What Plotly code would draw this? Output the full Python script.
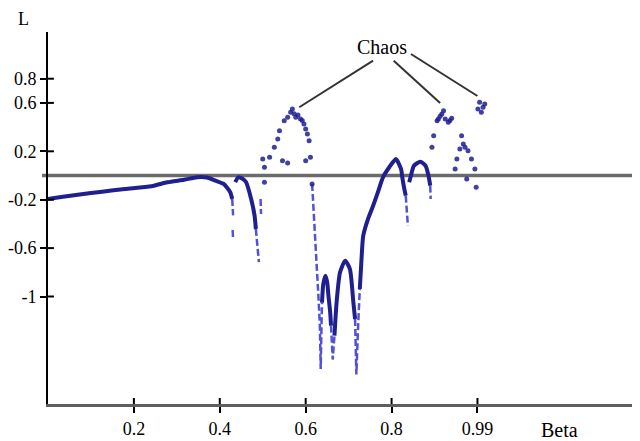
import plotly.graph_objects as go

# smooth (dense) parts of the curve, None = break
curve_beta = [0.000, 0.011, 0.065, 0.126, 0.179, 0.241, 0.278, 0.317, 0.347, 0.370, 0.390, 0.409, 0.424, 0.429, None,
              0.436, 0.443, 0.452, 0.461, 0.473, 0.481, 0.484, None,
              0.638, 0.641, 0.646, 0.650, 0.653, 0.657, 0.659, None,
              0.667, 0.672, 0.680, 0.692, 0.703, 0.711, 0.715, None,
              0.726, 0.730, 0.734, 0.745, 0.757, 0.768, 0.780, 0.795, 0.810, 0.822, 0.825, 0.829, 0.833, None,
              0.841, 0.845, 0.852, 0.867, 0.879, 0.886, 0.890]
curve_L = [-0.194, -0.188, -0.161, -0.134, -0.112, -0.089, -0.056, -0.035, -0.015, -0.017, -0.043, -0.070, -0.136, -0.194, None,
           -0.054, -0.015, -0.025, -0.054, -0.194, -0.332, -0.442, None,
           -1.050, -0.897, -0.828, -0.880, -0.993, -1.128, -1.241, None,
           -1.324, -1.048, -0.800, -0.704, -0.773, -1.048, -1.186, None,
           -0.938, -0.690, -0.498, -0.360, -0.250, -0.139, -0.015, 0.070, 0.136, 0.054, -0.015, -0.098, -0.167, None,
           -0.056, -0.002, 0.081, 0.114, 0.081, -0.002, -0.084]

# sparse dashed drops
dip_beta = [0.429, 0.431, None, 0.430, 0.431, None,
            0.484, 0.491, None, 0.495, 0.496, None,
            0.615, 0.619, 0.622, 0.626, 0.630, 0.633, 0.635, 0.637, 0.638, None,
            0.659, 0.663, 0.667, None,
            0.715, 0.718, 0.722, 0.726, None,
            0.833, 0.838, None,
            0.890, 0.891]
dip_L = [-0.194, -0.33, None, -0.45, -0.53, None,
         -0.442, -0.715, None, -0.194, -0.318, None,
         -0.070, -0.302, -0.525, -0.773, -1.021, -1.244, -1.599, -1.200, -1.050, None,
         -1.241, -1.521, -1.324, None,
         -1.186, -1.645, -1.250, -0.938, None,
         -0.167, -0.417, None,
         -0.084, -0.194]

# chaotic bands
chaos_beta = [0.504, 0.504, 0.500, 0.516, 0.527, 0.535, 0.539, 0.550, 0.558, 0.565, 0.569, 0.573, 0.577, 0.582,
              0.588, 0.592, 0.596, 0.600, 0.604, 0.608, 0.611, 0.546, 0.558, 0.600, 0.615,
              0.894, 0.898, 0.906, 0.909, 0.913, 0.917, 0.921, 0.925, 0.932, 0.936, 0.940,
              0.948, 0.952, 0.959, 0.963, 0.967, 0.971, 0.978, 0.986, 0.994, 0.997, 0.975,
              1.001, 1.005, 1.009, 1.013, 1.017]
chaos_L = [-0.056, 0.068, 0.136, 0.150, 0.233, 0.302, 0.370, 0.453, 0.481, 0.522, 0.550, 0.510, 0.481, 0.500,
           0.467, 0.455, 0.426, 0.384, 0.343, 0.288, 0.150, 0.122, 0.103, 0.122, -0.070,
           0.233, 0.329, 0.453, 0.467, 0.490, 0.508, 0.536, 0.467, 0.440, 0.455, 0.473,
           0.054, 0.136, 0.219, 0.329, 0.260, 0.233, 0.205, 0.136, 0.054, -0.098, -0.029,
           0.550, 0.605, 0.522, 0.564, 0.591]

ytick_vals = [0.8, 0.6, 0.2, -0.2, -0.6, -1]
ytick_text = ["0.8", "0.6", "0.2", "-0.2", "-0.6", "-1"]
xtick_vals = [0.2, 0.4, 0.6, 0.8, 1.0]
xtick_text = ["0.2", "0.4", "0.6", "0.8", "0.99"]

# arrows from the "Chaos" label to the three chaotic windows
chaos_label = (0.778, 1.062)
chaos_lines = [((0.757, 0.949), (0.585, 0.564)),
               ((0.805, 0.949), (0.913, 0.599)),
               ((0.845, 1.004), (1.000, 0.657))]

NAVY = "#1f1f8f"
LIGHT = "#5252d6"
FONT = "Liberation Serif"

# page body has an 8px margin, so the figure is shrunk by that much
W, H = 632, 433
ML, MR, MT, MB = 31, 0, 24, 37
PW, PH = W - ML - MR, H - MT - MB

fig = go.Figure()
fig.add_trace(go.Scatter(x=dip_beta, y=dip_L, mode="lines", connectgaps=False,
                         line=dict(color=LIGHT, width=2.5, dash="7px,3px"), hoverinfo="skip"))
fig.add_trace(go.Scatter(x=curve_beta, y=curve_L, mode="lines", connectgaps=False,
                         line=dict(color=NAVY, width=4, shape="spline", smoothing=0.6)))
fig.add_trace(go.Scatter(x=chaos_beta, y=chaos_L, mode="markers",
                         marker=dict(color=NAVY, size=5, opacity=0.85)))

shapes = []
# zero line, runs a little left of the y axis
shapes.append(dict(type="line", xref="paper", yref="y", x0=-6 / PW, x1=1, y0=0, y1=0,
                   line=dict(color="#6b6b6b", width=3.5), layer="below"))
# inner half of the crossing ticks
for v in ytick_vals:
    shapes.append(dict(type="line", xref="paper", yref="y", x0=0, x1=6 / PW, y0=v, y1=v,
                       line=dict(color="black", width=2)))
for v in xtick_vals:
    shapes.append(dict(type="line", xref="x", yref="paper", x0=v, x1=v, y0=0, y1=6 / PH,
                       line=dict(color="black", width=2)))
for (a, b) in chaos_lines:
    shapes.append(dict(type="line", xref="x", yref="y", x0=a[0], y0=a[1], x1=b[0], y1=b[1],
                       line=dict(color="#333333", width=2)))

annotations = [
    dict(text="Chaos", x=chaos_label[0], y=chaos_label[1], xref="x", yref="y", showarrow=False,
         xanchor="center", yanchor="middle",
         font=dict(size=20, family=FONT, color="black")),
    dict(text="L", x=-25 / PW, y=1 + 13 / PH, xref="paper", yref="paper", showarrow=False,
         xanchor="center", yanchor="middle",
         font=dict(size=18, family=FONT, color="black")),
    dict(text="Beta", x=(550 - ML) / PW, y=-26 / PH, xref="paper", yref="paper", showarrow=False,
         xanchor="center", yanchor="middle",
         font=dict(size=20, family=FONT, color="black")),
]

tick_font = dict(family=FONT, size=18, color="black")

fig.update_layout(
    width=W, height=H, margin=dict(l=ML, r=MR, t=MT, b=MB),
    paper_bgcolor="white", plot_bgcolor="white", showlegend=False,
    font=dict(family=FONT, size=18, color="black"),
    shapes=shapes, annotations=annotations,
    xaxis=dict(range=[0, PW / 436], showgrid=False, zeroline=False,
               showline=True, linecolor="#5e5e5e", linewidth=3,
               ticks="outside", ticklen=6, tickwidth=2, tickcolor="black",
               tickvals=xtick_vals, ticktext=xtick_text, tickfont=tick_font),
    yaxis=dict(range=[-228.5 / 121, 143.5 / 121],
               showgrid=False, zeroline=False,
               showline=True, linecolor="black", linewidth=2,
               ticks="outside", ticklen=6, tickwidth=2, tickcolor="black",
               tickvals=ytick_vals, ticktext=ytick_text, tickfont=tick_font),
)

fig.write_html("out.html")
